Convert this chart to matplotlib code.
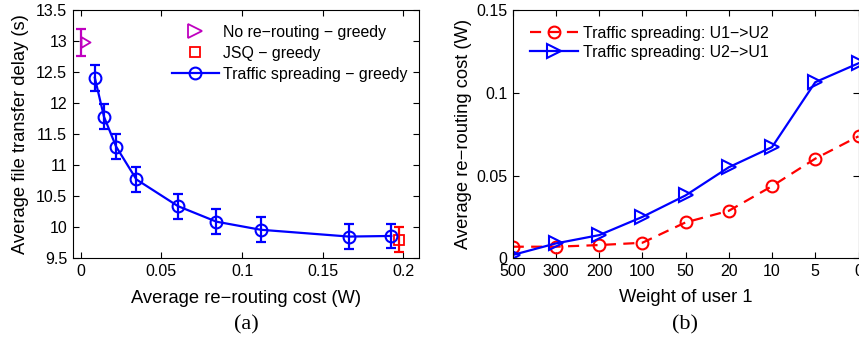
import matplotlib
matplotlib.use("Agg")
import matplotlib.pyplot as plt
from matplotlib.lines import Line2D
from matplotlib.path import Path
import numpy as np

plt.rcParams['font.family'] = ['Liberation Sans', 'DejaVu Sans']

# ---- Panel (a) data ----
norr_x = [0.0]
norr_y = [12.98]
norr_err = [0.22]

jsq_x = [0.1972]
jsq_y = [9.80]
jsq_err = [0.20]

ts_x = [0.0087, 0.0144, 0.0219, 0.0345, 0.0603, 0.0841, 0.1115, 0.1663, 0.1925]
ts_y = [12.41, 11.78, 11.30, 10.77, 10.34, 10.09, 9.96, 9.85, 9.86]
ts_err = [0.21, 0.20, 0.20, 0.20, 0.20, 0.20, 0.20, 0.20, 0.20]

# ---- Panel (b) data ----
weights = ['500', '300', '200', '100', '50', '20', '10', '5', '0']
u1u2 = [0.007, 0.007, 0.008, 0.0094, 0.0217, 0.0287, 0.0436, 0.0602, 0.0737]
u2u1 = [0.002, 0.009, 0.014, 0.025, 0.038, 0.055, 0.0672, 0.1064, 0.1178]

W, H = 859, 340
fig = plt.figure(figsize=(W / 100, H / 100), dpi=100)

def px_axes(l, r, t, b):
    return fig.add_axes([l / W, 1 - b / H, (r - l) / W, (b - t) / H])

tick_fs = 11.5
lab_fs = 13.2
leg_fs = 11.4

def style(ax):
    ax.tick_params(direction='in', length=4, width=0.8, top=True, right=True,
                   labelsize=tick_fs, pad=4)
    for s in ax.spines.values():
        s.set_linewidth(0.8)

# right-pointing triangle whose left vertex sits on the data point
tri_right = Path([(0, -1), (1.7, 0), (0, 1), (0, -1)],
                 [Path.MOVETO, Path.LINETO, Path.LINETO, Path.CLOSEPOLY])

# ---- Left axes ----
ax1 = px_axes(72.7, 419.3, 10, 258.3)
style(ax1)
lw = 1.6
ms = 7.5
cap = 3.6
ax1.errorbar(norr_x, norr_y, yerr=norr_err, fmt='none', ecolor='m',
             elinewidth=lw, capsize=cap, capthick=lw)
ax1.plot(norr_x, norr_y, linestyle='none', marker=tri_right, color='m', ms=13,
         mfc='none', mew=1.3)
ax1.errorbar(jsq_x, jsq_y, yerr=jsq_err, fmt='none', ecolor='r',
             elinewidth=lw, capsize=cap, capthick=lw)
ax1.plot(jsq_x, jsq_y, linestyle='none', marker='s', color='r', ms=ms,
         mfc='none', mew=1.3)
ax1.errorbar(ts_x, ts_y, yerr=ts_err, fmt='none', ecolor='b',
             elinewidth=lw, capsize=cap, capthick=lw)
ax1.plot(ts_x, ts_y, '-o', color='b', lw=lw, ms=ms + 1, mfc='none', mew=1.5)
ax1.set_xlim(-0.005, 0.2099)
ax1.set_ylim(9.5, 13.5)
ax1.set_xticks([0, 0.05, 0.1, 0.15, 0.2])
ax1.set_xticklabels(['0', '0.05', '0.1', '0.15', '0.2'])
ax1.set_yticks(np.arange(9.5, 13.51, 0.5))
ax1.set_yticklabels(['9.5', '10', '10.5', '11', '11.5', '12', '12.5', '13', '13.5'])
ax1.set_xlabel('Average re\u2212routing cost (W)', fontsize=lab_fs, labelpad=8)
ax1.set_ylabel('Average file transfer delay (s)', fontsize=lab_fs, labelpad=5)
h1 = [Line2D([], [], linestyle='none', marker='>', color='m', ms=9.5,
             mfc='none', mew=1.3),
      Line2D([], [], linestyle='none', marker='s', color='r', ms=ms,
             mfc='none', mew=1.3),
      Line2D([], [], color='b', lw=lw, marker='o', ms=ms + 1, mfc='none',
             mew=1.5)]
ax1.legend(h1, ['No re\u2212routing \u2212 greedy', 'JSQ \u2212 greedy',
                'Traffic spreading \u2212 greedy'],
           loc='upper left', bbox_to_anchor=(0.2865, 0.941), frameon=False,
           fontsize=leg_fs, borderpad=0, borderaxespad=0, handlelength=2.95,
           handletextpad=0.3, labelspacing=0.38)

# ---- Right axes ----
ax2 = px_axes(512.7, 858.5, 10, 258.3)
style(ax2)
xi = np.arange(len(weights))
ax2.plot(xi, u1u2, color='r', lw=lw, dashes=(5, 3.3), marker='o', ms=ms + 1,
         mfc='none', mew=1.5, label='Traffic spreading: U1\u2212>U2')
ax2.plot(xi, u2u1, color='b', lw=lw, marker='>', ms=9.5, mfc='none',
         mew=1.5, label='Traffic spreading: U2\u2212>U1')
ax2.set_xlim(0, 8)
ax2.set_ylim(0, 0.15)
ax2.set_xticks(xi)
ax2.set_xticklabels(weights)
ax2.set_yticks([0, 0.05, 0.1, 0.15])
ax2.set_yticklabels(['0', '0.05', '0.1', '0.15'])
ax2.set_xlabel('Weight of user 1', fontsize=lab_fs, labelpad=7)
ax2.set_ylabel('Average re\u2212routing cost (W)', fontsize=lab_fs, labelpad=3)
ax2.legend(loc='upper left', bbox_to_anchor=(0.05, 0.937), frameon=False,
           fontsize=leg_fs, borderpad=0, borderaxespad=0, handlelength=3.05,
           handletextpad=0.3, labelspacing=0.25)

fig.text(246 / W, 1 - 325 / H, '(a)', ha='center', va='center',
         fontsize=16, family='Liberation Serif')
fig.text(685 / W, 1 - 325 / H, '(b)', ha='center', va='center',
         fontsize=16, family='Liberation Serif')

fig.savefig('out.png', dpi=100)
